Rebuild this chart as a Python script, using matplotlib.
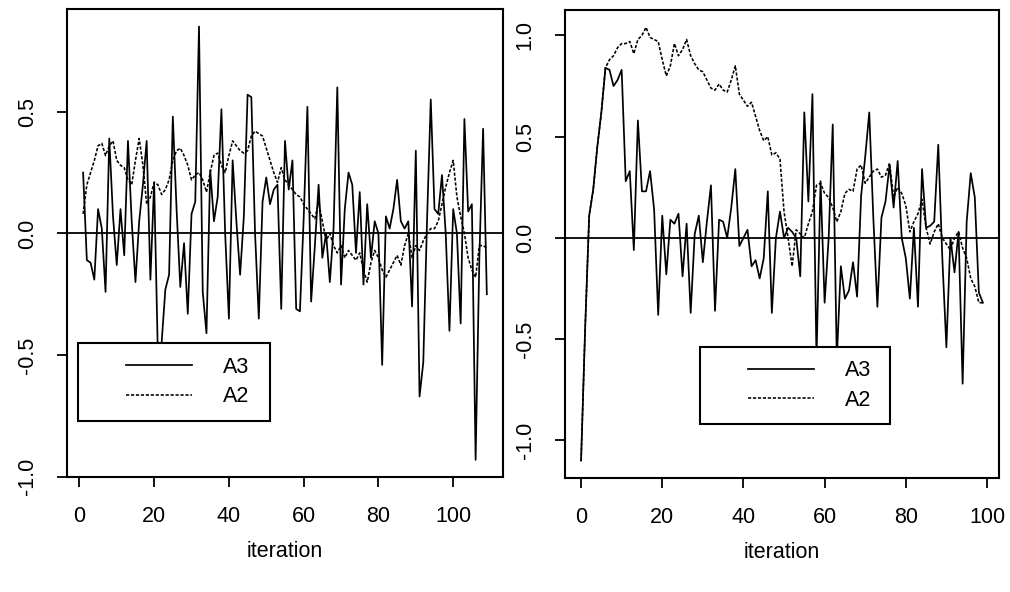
#plot.py: two trace plots of A3 / A2 over iterations (R-style base graphics look)

import matplotlib
matplotlib.use("Agg")
import matplotlib.pyplot as plt
from matplotlib.lines import Line2D
from matplotlib.legend_handler import HandlerLine2D

plt.rcParams["font.family"] = ["Liberation Sans", "DejaVu Sans"]
plt.rcParams["axes.unicode_minus"] = False

#left panel: iterations 1..109
left_iter = list(range(1, 110))
left_a3 = [
    0.25, -0.11, -0.12, -0.19, 0.10, 0.02, -0.24, 0.39, 0.07, -0.13,
    0.10, -0.09, 0.38, 0.05, -0.20, 0.05, 0.20, 0.38, -0.19, 0.21,
    -0.50, -0.45, -0.23, -0.17, 0.48, 0.10, -0.22, -0.04, -0.33, 0.08,
    0.13, 0.85, -0.24, -0.41, 0.26, 0.05, 0.15, 0.51, 0.00, -0.35,
    0.30, 0.05, -0.17, 0.07, 0.57, 0.56, 0.00, -0.35, 0.13, 0.23,
    0.12, 0.18, 0.20, -0.31, 0.38, 0.18, 0.30, -0.31, -0.32, 0.06,
    0.52, -0.28, -0.05, 0.20, -0.10, 0.00, -0.20, 0.02, 0.60, -0.21,
    0.10, 0.25, 0.20, -0.08, 0.17, -0.21, 0.12, -0.10, 0.05, 0.00,
    -0.54, 0.07, 0.02, 0.10, 0.22, 0.05, 0.02, 0.05, -0.30, 0.34,
    -0.67, -0.53, 0.05, 0.55, 0.10, 0.08, 0.24, 0.00, -0.40, 0.10,
    0.00, -0.37, 0.47, 0.09, 0.12, -0.93, -0.10, 0.43, -0.25,
]
left_a2 = [
    0.08, 0.20, 0.25, 0.30, 0.36, 0.37, 0.32, 0.36, 0.38, 0.30,
    0.28, 0.27, 0.22, 0.20, 0.30, 0.39, 0.28, 0.12, 0.15, 0.21,
    0.20, 0.16, 0.18, 0.22, 0.30, 0.34, 0.35, 0.32, 0.28, 0.22,
    0.24, 0.25, 0.22, 0.17, 0.25, 0.32, 0.33, 0.28, 0.25, 0.32,
    0.38, 0.36, 0.34, 0.33, 0.34, 0.40, 0.42, 0.41, 0.40, 0.35,
    0.30, 0.25, 0.21, 0.27, 0.22, 0.20, 0.18, 0.16, 0.15, 0.12,
    0.10, 0.08, 0.06, 0.13, 0.05, -0.03, 0.00, -0.05, -0.08, -0.05,
    -0.10, -0.07, -0.09, -0.11, -0.08, -0.15, -0.20, -0.12, -0.07, -0.10,
    -0.15, -0.18, -0.15, -0.12, -0.09, -0.13, -0.05, 0.00, -0.10, -0.05,
    -0.07, -0.03, 0.00, 0.02, 0.02, 0.05, 0.12, 0.19, 0.25, 0.30,
    0.15, 0.07, 0.00, -0.10, -0.15, -0.18, -0.05, -0.05, -0.06,
]

#right panel: iterations 0..99
right_iter = list(range(0, 100))
right_a3 = [
    -1.10, -0.45, 0.11, 0.24, 0.45, 0.62, 0.84, 0.83, 0.75, 0.78,
    0.83, 0.28, 0.33, -0.06, 0.58, 0.23, 0.23, 0.33, 0.14, -0.38,
    0.11, -0.18, 0.09, 0.07, 0.12, -0.19, 0.07, -0.37, 0.02, 0.11,
    -0.12, 0.08, 0.26, -0.36, 0.09, 0.08, 0.00, 0.15, 0.34, -0.04,
    0.00, 0.04, -0.14, -0.11, -0.20, -0.10, 0.23, -0.37, 0.00, 0.13,
    0.00, 0.05, 0.03, 0.00, -0.19, 0.62, 0.18, 0.71, -0.60, 0.28,
    -0.32, 0.00, 0.56, -0.60, -0.14, -0.30, -0.26, -0.12, -0.29, 0.21,
    0.40, 0.62, 0.10, -0.34, 0.10, 0.18, 0.36, 0.15, 0.38, 0.00,
    -0.10, -0.30, 0.05, -0.34, 0.34, 0.05, 0.06, 0.08, 0.46, -0.10,
    -0.54, 0.00, -0.17, 0.03, -0.72, 0.08, 0.32, 0.20, -0.27, -0.32,
]
right_a2 = [
    -1.10, -0.45, 0.11, 0.24, 0.45, 0.62, 0.84, 0.88, 0.90, 0.94,
    0.96, 0.96, 0.97, 0.91, 0.98, 1.00, 1.04, 0.99, 0.98, 0.97,
    0.88, 0.80, 0.85, 0.96, 0.90, 0.93, 0.98, 0.90, 0.86, 0.83,
    0.82, 0.78, 0.74, 0.73, 0.76, 0.73, 0.72, 0.78, 0.85, 0.71,
    0.68, 0.65, 0.67, 0.60, 0.53, 0.48, 0.50, 0.41, 0.42, 0.39,
    0.13, 0.00, -0.14, 0.04, 0.02, 0.00, 0.07, 0.13, 0.26, 0.27,
    0.22, 0.20, 0.15, 0.08, 0.13, 0.22, 0.24, 0.23, 0.34, 0.36,
    0.27, 0.30, 0.33, 0.34, 0.30, 0.31, 0.37, 0.20, 0.25, 0.22,
    0.16, 0.03, 0.08, 0.12, 0.19, 0.05, -0.03, 0.03, 0.07, 0.00,
    -0.03, -0.06, 0.00, 0.03, -0.05, -0.10, -0.20, -0.24, -0.32, -0.32,
]

labels = ["A3", "A2"]
FS = 15.5

fig = plt.figure(figsize=(10.1, 5.92), dpi=100)
ax1 = fig.add_axes([0.0663, 0.194, 0.4317, 0.7905])
ax2 = fig.add_axes([0.5594, 0.1926, 0.4297, 0.7905])

panels = [
    (ax1, left_iter, left_a3, left_a2, [-1.0, -0.5, 0.0, 0.5], (0.025, 0.1, 0.44, 0.186)),
    (ax2, right_iter, right_a3, right_a2, [-1.0, -0.5, 0.0, 0.5, 1.0], (0.311, 0.1, 0.438, 0.18)),
]

for ax, it, a3, a2, yt, leg_box in panels:
    ax.plot(it, a3, color="black", lw=1.25, label=labels[0])
    ax.plot(it, a2, color="black", lw=1.15, ls=(0, (2.0, 1.1)), label=labels[1])
    ax.margins(x=0.04, y=0.04)  # R's default axis extension
    ax.axhline(0, color="black", lw=1.3)
    ax.set_xticks([0, 20, 40, 60, 80, 100])
    ax.set_yticks(yt)
    ax.set_yticklabels([f"{v:.1f}" for v in yt], rotation=90, va="center")
    ax.tick_params(direction="out", length=7, width=1.3, pad=14, labelsize=FS)
    for s in ax.spines.values():
        s.set_linewidth(1.5)
    ax.set_xlabel("iteration", fontsize=FS, labelpad=10)
    leg = ax.legend(loc="upper left", bbox_to_anchor=leg_box, mode="expand",
                    borderaxespad=0, borderpad=0.62, handlelength=4.7,
                    handletextpad=1.4, labelspacing=0.4, fontsize=FS,
                    fancybox=False, framealpha=1, edgecolor="black",
                    handler_map={Line2D: HandlerLine2D(xpad=1.62)})
    leg.get_frame().set_linewidth(1.5)

plt.savefig("out.png")
